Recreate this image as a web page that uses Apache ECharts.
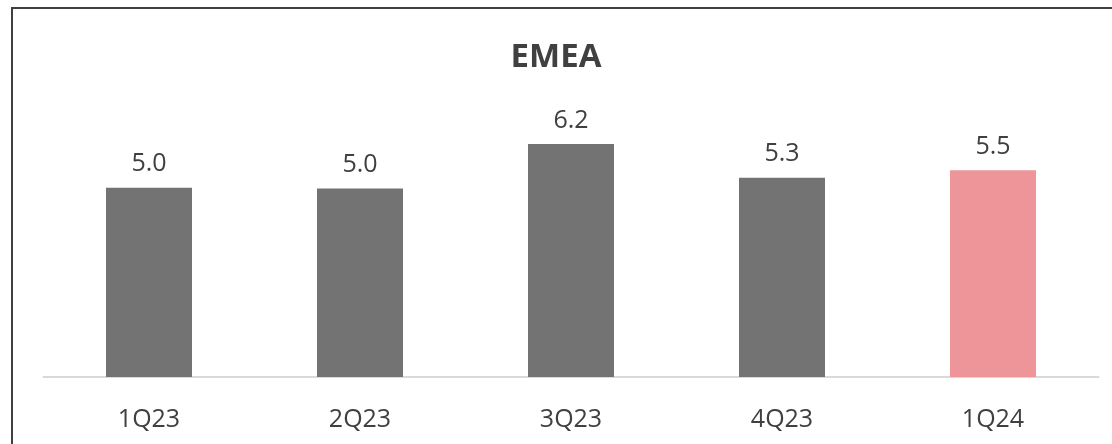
<!DOCTYPE html>
<html>
<head>
<meta charset="utf-8">
<script src="https://cdn.jsdelivr.net/npm/echarts@6/dist/echarts.min.js"></script>
<style>
html,body{margin:0;padding:0;background:#fff;}
#main{width:1112px;height:444px;}
</style>
</head>
<body>
<div id="main"></div>
<script>
const categories = ['1Q23', '2Q23', '3Q23', '4Q23', '1Q24'];
const values = [5.04, 5.02, 6.2, 5.3, 5.5];
const barColors = ['#737373', '#737373', '#737373', '#737373', '#EE9599'];
const titleText = 'EMEA';

const chart = echarts.init(document.getElementById('main'), null, {renderer: 'canvas'});
const font = '"Open Sans", "Noto Sans", sans-serif';
chart.setOption({
  animation: false,
  backgroundColor: '#ffffff',
  title: {
    text: titleText,
    left: 'center',
    top: 36,
    textStyle: {fontFamily: font, fontSize: 33, fontWeight: 'bold', color: '#404040'}
  },
  graphic: [
    {type: 'line', shape: {x1: 11, y1: 8, x2: 1112, y2: 8}, style: {stroke: '#404040', lineWidth: 2}},
    {type: 'line', shape: {x1: 12, y1: 7, x2: 12, y2: 444}, style: {stroke: '#404040', lineWidth: 2}}
  ],
  grid: {left: 43.5, right: 13.5, top: 114, bottom: 67, containLabel: false},
  xAxis: {
    type: 'category',
    data: categories,
    axisLine: {show: true, lineStyle: {color: '#d9d9d9', width: 2}},
    axisTick: {show: false},
    axisLabel: {fontFamily: font, fontSize: 25, color: '#404040', margin: 30}
  },
  yAxis: {
    type: 'value',
    min: 0,
    max: 7,
    show: false,
    splitLine: {show: false}
  },
  series: [{
    type: 'bar',
    data: values.map((v, i) => ({value: v, itemStyle: {color: barColors[i]}})),
    barWidth: 86,
    label: {
      show: true,
      position: 'top',
      distance: 11,
      fontFamily: font,
      fontSize: 25,
      color: '#404040',
      formatter: p => p.value.toFixed(1)
    }
  }]
});
</script>
</body>
</html>
